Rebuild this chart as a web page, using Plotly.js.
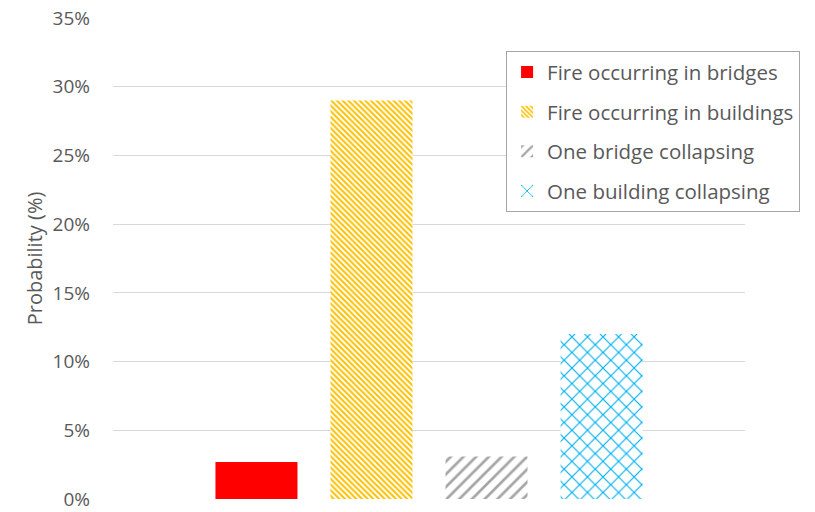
<!DOCTYPE html>
<html>
<head>
<meta charset="utf-8">
<script src="https://cdn.plot.ly/plotly-3.0.1.min.js"></script>
<style>html,body{margin:0;padding:0;background:#fff;}#chart{width:815px;height:512px;}</style>
</head>
<body>
<div id="chart"></div>
<script>
const category = [""];
const seriesNames = ["Fire occurring in bridges", "Fire occurring in buildings", "One bridge collapsing", "One building collapsing"];
const fireBridges = [0.027];
const fireBuildings = [0.29];
const bridgeCollapse = [0.031];
const buildingCollapse = [0.12];
const yTickVals = [0, 0.05, 0.10, 0.15, 0.20, 0.25, 0.30, 0.35];
const yTickText = ["0%", "5%", "10%", "15%", "20%", "25%", "30%", "35%"];

const values = [fireBridges, fireBuildings, bridgeCollapse, buildingCollapse];
const colors = ["#FF0000", "#FFC000", "#A5A5A5", "#00B0F0"];
const patterns = [
  {shape: ""},
  {shape: "\\", size: 4, solidity: 0.5, fgcolor: "#FFC000", bgcolor: "#FFFFFF"},
  {shape: "/", size: 9, solidity: 0.3, fgcolor: "#A5A5A5", bgcolor: "#FFFFFF"},
  {shape: "x", size: 11, solidity: 0.2, fgcolor: "#00B0F0", bgcolor: "#FFFFFF"}
];

const traces = seriesNames.map((n, i) => ({
  type: "bar",
  name: n,
  x: category,
  y: values[i],
  legendgroup: "g" + i,
  marker: {color: colors[i], pattern: patterns[i], line: {width: 0}},
  hoverinfo: "none"
}));

const layout = {
  width: 815, height: 512,
  margin: {l: 113, r: 70, t: 18, b: 13},
  paper_bgcolor: "#fff", plot_bgcolor: "#fff",
  barmode: "group",
  bargap: 0.272,
  bargroupgap: 0.287,
  font: {family: "Open Sans, sans-serif", color: "#595959", size: 20},
  xaxis: {showticklabels: false, showgrid: false, zeroline: false, showline: false, ticks: ""},
  yaxis: {
    range: [0, 0.35], tickvals: yTickVals, ticktext: yTickText,
    showgrid: true, gridcolor: "#D9D9D9", gridwidth: 1, zeroline: false,
    showline: false, ticks: "", ticklen: 0, ticklabelstandoff: 22,
    tickfont: {size: 19, color: "#595959"},
    title: {text: "Probability (%)", font: {size: 20, color: "#595959"}, standoff: 4}
  },
  showlegend: true,
  legend: {
    x: 0.622, y: 0.931, xanchor: "left", yanchor: "top",
    bgcolor: "#FFFFFF", bordercolor: "#A6A6A6", borderwidth: 1,
    font: {size: 20.5, color: "#595959"},
    tracegroupgap: 10, itemwidth: 30
  }
};

Plotly.newPlot("chart", traces, layout, {displayModeBar: false, staticPlot: true});
</script>
</body>
</html>
